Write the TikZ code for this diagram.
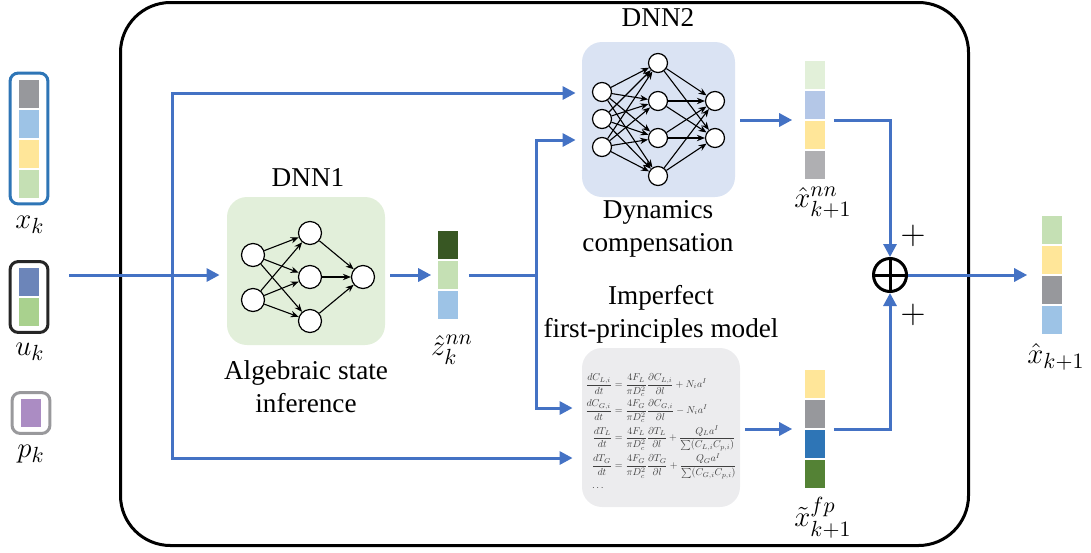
\documentclass[tikz,border=0pt]{standalone}
\usepackage{amsmath}
\usepackage{graphicx}
\usepackage{fontspec}
\setmainfont{Liberation Serif}
\usetikzlibrary{arrows.meta,positioning,fit}

\definecolor{lineblue}{RGB}{68,114,196}
\definecolor{cgray}{RGB}{151,152,156}
\definecolor{clblue}{RGB}{157,195,230}
\definecolor{cyellow}{RGB}{255,230,153}
\definecolor{clgreen}{RGB}{197,224,180}
\definecolor{cublue}{RGB}{108,133,185}
\definecolor{cugreen}{RGB}{169,209,142}
\definecolor{cpurple}{RGB}{171,140,195}
\definecolor{cdgreen}{RGB}{56,87,35}
\definecolor{cpgreen}{RGB}{226,240,217}
\definecolor{cpblue}{RGB}{180,199,231}
\definecolor{clgray}{RGB}{175,175,178}
\definecolor{cblue}{RGB}{46,117,182}
\definecolor{cgreen}{RGB}{84,130,53}
\definecolor{dnnonefill}{RGB}{226,239,218}
\definecolor{dnntwofill}{RGB}{218,227,243}
\definecolor{fpfill}{RGB}{236,236,238}
\definecolor{xkborder}{RGB}{46,117,182}
\definecolor{ukborder}{RGB}{38,38,38}
\definecolor{pkborder}{RGB}{153,153,156}

\begin{document}
\begin{tikzpicture}[x=0.5pt, y=-0.5pt,
  neuron/.style={circle, draw, fill=white, inner sep=0pt, line width=0.6pt, minimum size=#1},
  nnedge/.style={-{Stealth[length=4pt,width=3.2pt]}, line width=0.55pt},
  flow/.style={draw=lineblue, line width=1.5pt, -{Triangle[length=6.5pt,width=6.5pt]}},
  cell/.style={fill=#1, minimum width=10pt, minimum height=14pt, inner sep=0pt},
  vecbox/.style={draw=#1, line width=1.5pt, rounded corners=4pt, inner xsep=4.25pt, inner ysep=3pt},
  panel/.style={fill=#1, rounded corners=10pt, inner sep=0pt},
  lbl/.style={font=\fontsize{15}{17}\selectfont}]
  \tikzstyle{every node}=[font=\fontsize{13.6}{16.5}\selectfont]
  \useasboundingbox (0,0) rectangle (1091,552);

  % outer frame
  \draw[line width=1.5pt, rounded corners=25pt] (120.5,2.5) rectangle (968.5,545.5);

  % inputs
  \foreach \c [count=\i] in {cgray,clblue,cyellow,clgreen}
    \node[cell=\c] (xk\i) at (29,{63.5+30*\i}) {};
  \node[vecbox=xkborder, fit=(xk1)(xk4)] (xk) {};
  \foreach \c [count=\i] in {cublue,cugreen}
    \node[cell=\c] (uk\i) at (29,{252+30*\i}) {};
  \node[vecbox=ukborder, fit=(uk1)(uk2)] (uk) {};
  \node[cell=cpurple] (pk1) at (31,413) {};
  \node[vecbox=pkborder, fit=(pk1)] (pk) {};
  \node[lbl] (xklbl) at (30,225) {$x_k$};
  \node[lbl] (uklbl) at (30,352) {$u_k$};
  \node[lbl] (pklbl) at (31,454) {$p_k$};

  % DNN1
  \node[panel=dnnonefill, minimum width=79pt, minimum height=74pt] (dnn1) at (306,271) {};
  \node (dnn1lbl) at (308,178) {DNN1};
  \node[align=center] (dnn1txt) at (306,387) {Algebraic state\\inference};
  \foreach \i/\y in {1/255,2/300}
    \node[neuron=11.5pt] (a\i) at (253,\y) {};
  \foreach \i/\y in {1/233,2/277,3/321}
    \node[neuron=11.5pt] (b\i) at (310,\y) {};
  \node[neuron=11.5pt] (c1) at (363,277) {};
  \foreach \i in {1,2}
    \foreach \j in {1,2,3}
      \draw[nnedge] (a\i) -- (b\j);
  \foreach \j in {1,2,3}
    \draw[nnedge] (b\j) -- (c1);

  % DNN2
  \node[panel=dnntwofill, minimum width=76.5pt, minimum height=77.5pt] (dnn2) at (658.5,119.5) {};
  \node (dnn2lbl) at (658,18) {DNN2};
  \node[align=center] (dnn2txt) at (658,229) {Dynamics\\compensation};
  \foreach \i/\y in {1/92,2/119,3/147}
    \node[neuron=9.5pt] (p\i) at (602,\y) {};
  \foreach \i/\y in {1/63,2/101,3/138,4/176}
    \node[neuron=9.5pt] (q\i) at (658,\y) {};
  \foreach \i/\y in {1/101,2/138}
    \node[neuron=9.5pt] (r\i) at (715,\y) {};
  \foreach \i in {1,2,3}
    \foreach \j in {1,2,3,4}
      \draw[nnedge] (p\i) -- (q\j);
  \foreach \i in {1,2,3,4}
    \foreach \j in {1,2}
      \draw[nnedge] (q\i) -- (r\j);

  % first-principles model
  \node[panel=fpfill, minimum width=79pt, minimum height=79.5pt] (fp) at (661,427.5) {};
  \node[align=center] (fptxt) at (661,314) {Imperfect\\first-principles model};
  \node[text=black!75, font=\normalsize, inner sep=0pt] (eqs) at (661,434) {\scalebox{0.5}{$\begin{array}{@{}r@{}l@{}}
    \dfrac{dC_{L,i}}{dt} & {}= \dfrac{4F_L}{\pi D_c^2}\dfrac{\partial C_{L,i}}{\partial l} + N_i a^I \\ \noalign{\vskip 3pt}
    \dfrac{dC_{G,i}}{dt} & {}= \dfrac{4F_G}{\pi D_c^2}\dfrac{\partial C_{G,i}}{\partial l} - N_i a^I \\ \noalign{\vskip 3pt}
    \dfrac{dT_L}{dt} & {}= \dfrac{4F_L}{\pi D_c^2}\dfrac{\partial T_L}{\partial l} + \dfrac{Q_L a^I}{\sum(C_{L,i}C_{p,i})} \\ \noalign{\vskip 3pt}
    \dfrac{dT_G}{dt} & {}= \dfrac{4F_G}{\pi D_c^2}\dfrac{\partial T_G}{\partial l} + \dfrac{Q_G a^I}{\sum(C_{G,i}C_{p,i})} \\ \noalign{\vskip 4pt}
    \cdots\;\;\; &
  \end{array}$}};

  % state vectors
  \foreach \c [count=\i] in {cdgreen,clgreen,clblue}
    \node[cell=\c] (z\i) at (448,{215+30*\i}) {};
  \node[fit=(z1)(z3), inner sep=0pt] (z) {};
  \node[lbl] (zlbl) at (452,350) {$\hat{z}^{nn}_k$};
  \foreach \c [count=\i] in {cpgreen,cpblue,cyellow,clgray}
    \node[cell=\c] (xnn\i) at (815,{45+30*\i}) {};
  \node[fit=(xnn1)(xnn4), inner sep=0pt] (xnn) {};
  \node[lbl] (xnnlbl) at (823,203) {$\hat{x}^{nn}_{k+1}$};
  \foreach \c [count=\i] in {cyellow,cgray,cblue,cgreen}
    \node[cell=\c] (xfp\i) at (815,{354+30*\i}) {};
  \node[fit=(xfp1)(xfp4), inner sep=0pt] (xfp) {};
  \node[lbl] (xfplbl) at (823,518) {$\tilde{x}^{fp}_{k+1}$};
  \foreach \c [count=\i] in {clgreen,cyellow,cgray,clblue}
    \node[cell=\c] (out\i) at (1052,{200+30*\i}) {};
  \node[fit=(out1)(out4), inner sep=0pt] (out) {};
  \node[lbl] (outlbl) at (1056,357) {$\hat{x}_{k+1}$};

  % sum
  \node[circle, draw, line width=1.5pt, minimum size=16.5pt, inner sep=0pt] (sum) at (890,275) {};
  \draw[line width=1.5pt] (sum.north) -- (sum.south) (sum.west) -- (sum.east);
  \node[font=\fontsize{16}{18}\selectfont] (plusa) at (913,236) {$+$};
  \node[font=\fontsize{16}{18}\selectfont] (plusb) at (913,315) {$+$};

  % connectors
  \coordinate (uin) at (69,275);
  \coordinate (split) at (172,275);
  \coordinate (zsplit) at (536,275);
  \draw[flow, shorten >=3.5pt] (uin) -- (uin -| dnn1.west);
  \draw[flow, shorten >=3pt] (split) |- ([yshift=13.25pt]dnn2.west);
  \draw[flow, shorten >=4.5pt] (split) |- ([yshift=-15.25pt]fp.west);
  \draw[flow, shorten <=2.5pt, shorten >=3pt] (dnn1.east |- z.west) -- (z.west);
  \draw[draw=lineblue, line width=1.5pt, shorten <=5pt] (z.east) -- (zsplit);
  \draw[flow, shorten >=3pt] (zsplit) |- ([yshift=-10.25pt]dnn2.west);
  \draw[flow, shorten >=4.5pt] (zsplit) |- ([yshift=9.75pt]fp.west);
  \draw[flow, shorten <=2.5pt, shorten >=6pt] (dnn2.east |- xnn.west) -- (xnn.west);
  \draw[flow, shorten <=2.5pt, shorten >=6pt] (fp.east |- xfp.west) -- (xfp.west);
  \draw[flow, shorten <=4pt] (xnn.east) -| (sum.north);
  \draw[flow, shorten <=4pt] (xfp.east) -| (sum.south);
  \draw[flow, shorten >=7pt] (sum.east) -- (out.west);
\end{tikzpicture}
\end{document}
